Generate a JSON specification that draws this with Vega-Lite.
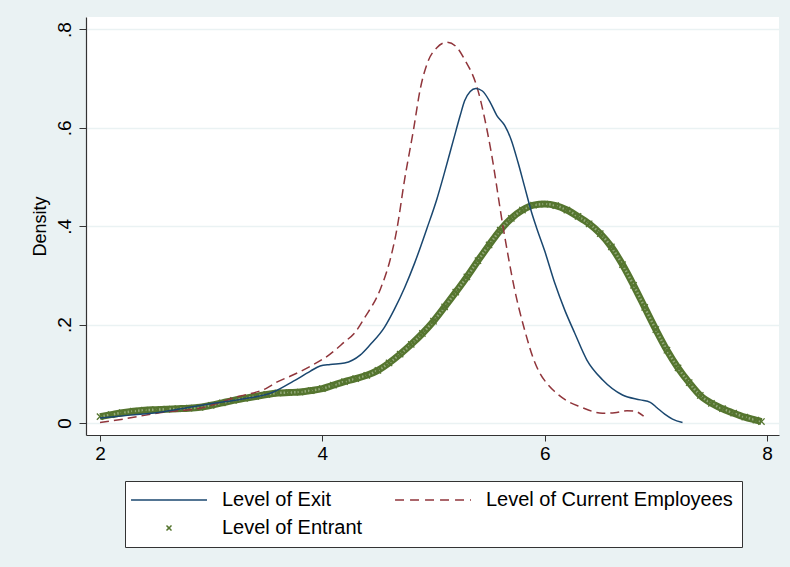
{
  "$schema": "https://vega.github.io/schema/vega-lite/v6.json",
  "width": 693,
  "height": 418,
  "autosize": {"type": "none"},
  "padding": {"left": 86, "top": 17, "right": 11, "bottom": 132},
  "background": "#EAF2F3",
  "config": {
    "view": {"fill": "white", "stroke": null},
    "font": "Liberation Sans"
  },
  "datasets": {
    "d": [
      {"s": "Level of Exit", "x": 2.00, "y": 0.010},
      {"s": "Level of Exit", "x": 2.27, "y": 0.016},
      {"s": "Level of Exit", "x": 2.54, "y": 0.022},
      {"s": "Level of Exit", "x": 2.78, "y": 0.031},
      {"s": "Level of Exit", "x": 3.02, "y": 0.040},
      {"s": "Level of Exit", "x": 3.26, "y": 0.048},
      {"s": "Level of Exit", "x": 3.56, "y": 0.063},
      {"s": "Level of Exit", "x": 3.74, "y": 0.085},
      {"s": "Level of Exit", "x": 3.89, "y": 0.105},
      {"s": "Level of Exit", "x": 3.98, "y": 0.116},
      {"s": "Level of Exit", "x": 4.07, "y": 0.119},
      {"s": "Level of Exit", "x": 4.20, "y": 0.122},
      {"s": "Level of Exit", "x": 4.34, "y": 0.138},
      {"s": "Level of Exit", "x": 4.43, "y": 0.159},
      {"s": "Level of Exit", "x": 4.56, "y": 0.195},
      {"s": "Level of Exit", "x": 4.65, "y": 0.232},
      {"s": "Level of Exit", "x": 4.74, "y": 0.275},
      {"s": "Level of Exit", "x": 4.83, "y": 0.325},
      {"s": "Level of Exit", "x": 4.94, "y": 0.395},
      {"s": "Level of Exit", "x": 5.03, "y": 0.455},
      {"s": "Level of Exit", "x": 5.10, "y": 0.510},
      {"s": "Level of Exit", "x": 5.18, "y": 0.576},
      {"s": "Level of Exit", "x": 5.24, "y": 0.625},
      {"s": "Level of Exit", "x": 5.28, "y": 0.655},
      {"s": "Level of Exit", "x": 5.33, "y": 0.674},
      {"s": "Level of Exit", "x": 5.38, "y": 0.680},
      {"s": "Level of Exit", "x": 5.44, "y": 0.675},
      {"s": "Level of Exit", "x": 5.51, "y": 0.652},
      {"s": "Level of Exit", "x": 5.57, "y": 0.625},
      {"s": "Level of Exit", "x": 5.64, "y": 0.605},
      {"s": "Level of Exit", "x": 5.70, "y": 0.575},
      {"s": "Level of Exit", "x": 5.76, "y": 0.530},
      {"s": "Level of Exit", "x": 5.82, "y": 0.480},
      {"s": "Level of Exit", "x": 5.88, "y": 0.430},
      {"s": "Level of Exit", "x": 5.93, "y": 0.395},
      {"s": "Level of Exit", "x": 6.00, "y": 0.350},
      {"s": "Level of Exit", "x": 6.09, "y": 0.285},
      {"s": "Level of Exit", "x": 6.18, "y": 0.230},
      {"s": "Level of Exit", "x": 6.27, "y": 0.183},
      {"s": "Level of Exit", "x": 6.38, "y": 0.128},
      {"s": "Level of Exit", "x": 6.52, "y": 0.088},
      {"s": "Level of Exit", "x": 6.70, "y": 0.057},
      {"s": "Level of Exit", "x": 6.86, "y": 0.047},
      {"s": "Level of Exit", "x": 6.95, "y": 0.042},
      {"s": "Level of Exit", "x": 7.01, "y": 0.031},
      {"s": "Level of Exit", "x": 7.08, "y": 0.018},
      {"s": "Level of Exit", "x": 7.15, "y": 0.008},
      {"s": "Level of Exit", "x": 7.24, "y": 0.001},
      {"s": "Level of Current Employees", "x": 2.00, "y": 0.001},
      {"s": "Level of Current Employees", "x": 2.21, "y": 0.008},
      {"s": "Level of Current Employees", "x": 2.57, "y": 0.022},
      {"s": "Level of Current Employees", "x": 2.90, "y": 0.030},
      {"s": "Level of Current Employees", "x": 3.23, "y": 0.053},
      {"s": "Level of Current Employees", "x": 3.50, "y": 0.071},
      {"s": "Level of Current Employees", "x": 3.59, "y": 0.083},
      {"s": "Level of Current Employees", "x": 3.71, "y": 0.095},
      {"s": "Level of Current Employees", "x": 3.89, "y": 0.115},
      {"s": "Level of Current Employees", "x": 4.07, "y": 0.140},
      {"s": "Level of Current Employees", "x": 4.20, "y": 0.165},
      {"s": "Level of Current Employees", "x": 4.29, "y": 0.183},
      {"s": "Level of Current Employees", "x": 4.38, "y": 0.214},
      {"s": "Level of Current Employees", "x": 4.52, "y": 0.271},
      {"s": "Level of Current Employees", "x": 4.61, "y": 0.332},
      {"s": "Level of Current Employees", "x": 4.67, "y": 0.393},
      {"s": "Level of Current Employees", "x": 4.74, "y": 0.495},
      {"s": "Level of Current Employees", "x": 4.82, "y": 0.596},
      {"s": "Level of Current Employees", "x": 4.88, "y": 0.678},
      {"s": "Level of Current Employees", "x": 4.95, "y": 0.735},
      {"s": "Level of Current Employees", "x": 5.03, "y": 0.763},
      {"s": "Level of Current Employees", "x": 5.12, "y": 0.774},
      {"s": "Level of Current Employees", "x": 5.20, "y": 0.766},
      {"s": "Level of Current Employees", "x": 5.28, "y": 0.739},
      {"s": "Level of Current Employees", "x": 5.39, "y": 0.684},
      {"s": "Level of Current Employees", "x": 5.51, "y": 0.562},
      {"s": "Level of Current Employees", "x": 5.63, "y": 0.393},
      {"s": "Level of Current Employees", "x": 5.73, "y": 0.271},
      {"s": "Level of Current Employees", "x": 5.82, "y": 0.189},
      {"s": "Level of Current Employees", "x": 5.91, "y": 0.124},
      {"s": "Level of Current Employees", "x": 5.96, "y": 0.100},
      {"s": "Level of Current Employees", "x": 6.03, "y": 0.078},
      {"s": "Level of Current Employees", "x": 6.09, "y": 0.064},
      {"s": "Level of Current Employees", "x": 6.20, "y": 0.045},
      {"s": "Level of Current Employees", "x": 6.32, "y": 0.033},
      {"s": "Level of Current Employees", "x": 6.52, "y": 0.020},
      {"s": "Level of Current Employees", "x": 6.63, "y": 0.021},
      {"s": "Level of Current Employees", "x": 6.74, "y": 0.025},
      {"s": "Level of Current Employees", "x": 6.81, "y": 0.024},
      {"s": "Level of Current Employees", "x": 6.89, "y": 0.014},
      {"s": "Level of Entrant", "x": 2.0, "y": 0.013},
      {"s": "Level of Entrant", "x": 2.1, "y": 0.017},
      {"s": "Level of Entrant", "x": 2.2, "y": 0.021},
      {"s": "Level of Entrant", "x": 2.3, "y": 0.024},
      {"s": "Level of Entrant", "x": 2.4, "y": 0.026},
      {"s": "Level of Entrant", "x": 2.5, "y": 0.027},
      {"s": "Level of Entrant", "x": 2.6, "y": 0.028},
      {"s": "Level of Entrant", "x": 2.7, "y": 0.029},
      {"s": "Level of Entrant", "x": 2.8, "y": 0.030},
      {"s": "Level of Entrant", "x": 2.9, "y": 0.032},
      {"s": "Level of Entrant", "x": 3.0, "y": 0.036},
      {"s": "Level of Entrant", "x": 3.1, "y": 0.041},
      {"s": "Level of Entrant", "x": 3.2, "y": 0.046},
      {"s": "Level of Entrant", "x": 3.3, "y": 0.050},
      {"s": "Level of Entrant", "x": 3.4, "y": 0.054},
      {"s": "Level of Entrant", "x": 3.5, "y": 0.058},
      {"s": "Level of Entrant", "x": 3.6, "y": 0.061},
      {"s": "Level of Entrant", "x": 3.7, "y": 0.062},
      {"s": "Level of Entrant", "x": 3.8, "y": 0.063},
      {"s": "Level of Entrant", "x": 3.9, "y": 0.066},
      {"s": "Level of Entrant", "x": 4.0, "y": 0.070},
      {"s": "Level of Entrant", "x": 4.1, "y": 0.077},
      {"s": "Level of Entrant", "x": 4.2, "y": 0.084},
      {"s": "Level of Entrant", "x": 4.3, "y": 0.090},
      {"s": "Level of Entrant", "x": 4.4, "y": 0.097},
      {"s": "Level of Entrant", "x": 4.5, "y": 0.107},
      {"s": "Level of Entrant", "x": 4.6, "y": 0.122},
      {"s": "Level of Entrant", "x": 4.7, "y": 0.140},
      {"s": "Level of Entrant", "x": 4.8, "y": 0.160},
      {"s": "Level of Entrant", "x": 4.9, "y": 0.182},
      {"s": "Level of Entrant", "x": 5.0, "y": 0.207},
      {"s": "Level of Entrant", "x": 5.1, "y": 0.236},
      {"s": "Level of Entrant", "x": 5.2, "y": 0.266},
      {"s": "Level of Entrant", "x": 5.3, "y": 0.297},
      {"s": "Level of Entrant", "x": 5.4, "y": 0.330},
      {"s": "Level of Entrant", "x": 5.5, "y": 0.362},
      {"s": "Level of Entrant", "x": 5.6, "y": 0.392},
      {"s": "Level of Entrant", "x": 5.7, "y": 0.416},
      {"s": "Level of Entrant", "x": 5.8, "y": 0.433},
      {"s": "Level of Entrant", "x": 5.9, "y": 0.443},
      {"s": "Level of Entrant", "x": 6.0, "y": 0.445},
      {"s": "Level of Entrant", "x": 6.1, "y": 0.442},
      {"s": "Level of Entrant", "x": 6.2, "y": 0.433},
      {"s": "Level of Entrant", "x": 6.3, "y": 0.420},
      {"s": "Level of Entrant", "x": 6.4, "y": 0.405},
      {"s": "Level of Entrant", "x": 6.5, "y": 0.385},
      {"s": "Level of Entrant", "x": 6.6, "y": 0.358},
      {"s": "Level of Entrant", "x": 6.7, "y": 0.322},
      {"s": "Level of Entrant", "x": 6.8, "y": 0.280},
      {"s": "Level of Entrant", "x": 6.9, "y": 0.235},
      {"s": "Level of Entrant", "x": 7.0, "y": 0.190},
      {"s": "Level of Entrant", "x": 7.1, "y": 0.148},
      {"s": "Level of Entrant", "x": 7.2, "y": 0.112},
      {"s": "Level of Entrant", "x": 7.3, "y": 0.082},
      {"s": "Level of Entrant", "x": 7.4, "y": 0.056},
      {"s": "Level of Entrant", "x": 7.5, "y": 0.040},
      {"s": "Level of Entrant", "x": 7.6, "y": 0.029},
      {"s": "Level of Entrant", "x": 7.7, "y": 0.020},
      {"s": "Level of Entrant", "x": 7.8, "y": 0.012},
      {"s": "Level of Entrant", "x": 7.9, "y": 0.006},
      {"s": "Level of Entrant", "x": 7.95, "y": 0.003}
    ]
  },
  "data": {"name": "d"},
  "encoding": {
    "x": {
      "field": "x", "type": "quantitative",
      "scale": {"domain": [1.874, 8.108], "nice": false, "zero": false},
      "axis": {
        "values": [2, 4, 6, 8], "title": null, "grid": false, "format": "d",
        "domainColor": "#333333", "domainWidth": 1.2, "tickColor": "#333333", "tickSize": 6,
        "labelFont": "Liberation Sans", "labelFontSize": 19, "labelColor": "black", "labelPadding": 3
      }
    },
    "y": {
      "field": "y", "type": "quantitative",
      "scale": {"domain": [-0.0244, 0.8254], "nice": false, "zero": false},
      "axis": {
        "values": [0, 0.2, 0.4, 0.6, 0.8], "title": "Density", "grid": true, "gridColor": "#EAF2F3", "gridWidth": 1.5,
        "labelExpr": "datum.value === 0 ? '0' : '.' + format(datum.value * 10, 'd')",
        "labelAngle": -90, "labelAlign": "center", "labelBaseline": "bottom",
        "domainColor": "#333333", "domainWidth": 1.2, "tickColor": "#333333", "tickSize": 7,
        "labelFont": "Liberation Sans", "labelFontSize": 19, "labelColor": "black", "labelPadding": 5,
        "titleFont": "Liberation Sans", "titleFontSize": 18, "titleFontWeight": "normal", "titleColor": "black", "titlePadding": 6
      }
    },
    "color": {
      "field": "s", "type": "nominal",
      "scale": {
        "domain": ["Level of Exit", "Level of Current Employees", "Level of Entrant"],
        "range": ["#1a476f", "#90353b", "#55752f"]
      },
      "legend": {
        "orient": "none", "legendX": 39, "legendY": 464,
        "title": null, "columns": 2, "direction": "horizontal",
        "symbolType": "stroke", "symbolSize": 324, "symbolStrokeWidth": 1.5,
        "labelFont": "Liberation Sans", "labelFontSize": 20, "labelColor": "black", "labelOffset": 68, "labelLimit": 500,
        "columnPadding": 29, "rowPadding": 8, "padding": 9,
        "fillColor": "white", "strokeColor": "#333333",
        "encode": {
          "symbols": {
            "update": {
              "shape": {"signal": "datum.value === 'Level of Entrant' ? 'M2.5,-0.28L3.06,0.28M2.5,0.28L3.06,-0.28' : 'M-1.44,0L7.0,0'"},
              "strokeDash": {"signal": "datum.value === 'Level of Current Employees' ? [9, 6] : [1, 0]"},
              "fill": {"value": "transparent"}
            }
          }
        }
      }
    }
  },
  "layer": [
    {
      "transform": [{"filter": "datum.s === 'Level of Entrant'"}],
      "mark": {"type": "line", "strokeWidth": 7, "interpolate": "monotone"}
    },
    {
      "transform": [{"filter": "datum.s === 'Level of Entrant'"}],
      "mark": {"type": "line", "strokeWidth": 2.5, "strokeDash": [1.5, 2], "interpolate": "monotone"},
      "encoding": {"color": {"value": "#93a97a"}}
    },
    {
      "transform": [{"filter": "datum.s === 'Level of Entrant'"}],
      "mark": {"type": "point", "shape": "M-1,-1L1,1M-1,1L1,-1", "size": 40, "strokeWidth": 1.3, "filled": false, "opacity": 1}
    },
    {
      "transform": [{"filter": "datum.s === 'Level of Current Employees'"}],
      "mark": {"type": "line", "strokeWidth": 1.5, "strokeDash": [9, 5], "interpolate": "monotone"}
    },
    {
      "transform": [{"filter": "datum.s === 'Level of Exit'"}],
      "mark": {"type": "line", "strokeWidth": 1.5, "interpolate": "monotone"}
    }
  ]
}
